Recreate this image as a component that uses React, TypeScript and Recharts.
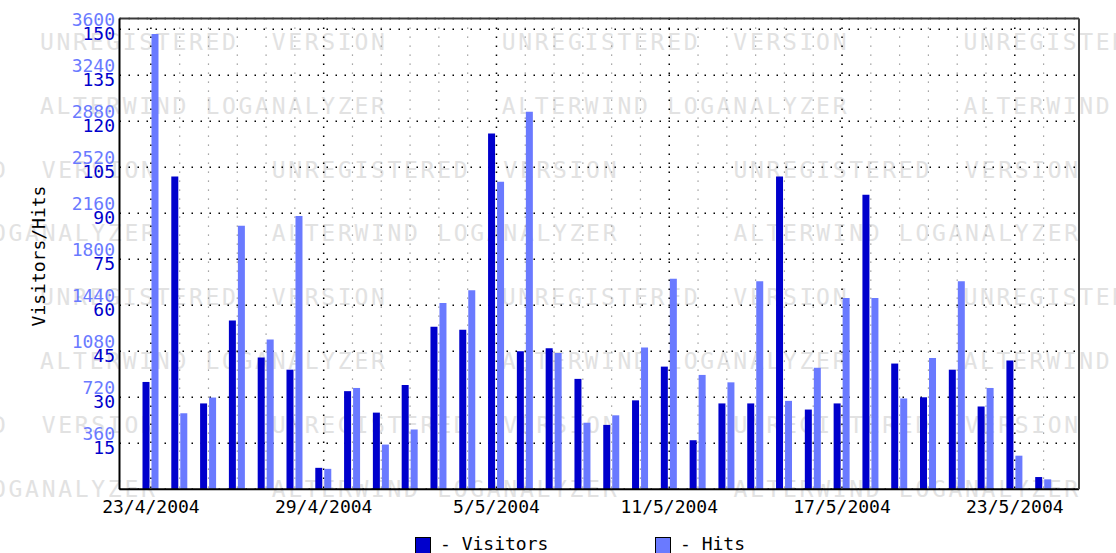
import React from 'react';
import { BarChart, Bar, XAxis, YAxis, CartesianGrid } from 'recharts';

const DATES = [
  '23/4/2004', '24/4/2004', '25/4/2004', '26/4/2004', '27/4/2004', '28/4/2004', '29/4/2004', '30/4/2004',
  '1/5/2004', '2/5/2004', '3/5/2004', '4/5/2004', '5/5/2004', '6/5/2004', '7/5/2004', '8/5/2004',
  '9/5/2004', '10/5/2004', '11/5/2004', '12/5/2004', '13/5/2004', '14/5/2004', '15/5/2004', '16/5/2004',
  '17/5/2004', '18/5/2004', '19/5/2004', '20/5/2004', '21/5/2004', '22/5/2004', '23/5/2004', '24/5/2004',
];
const VISITORS = [35, 102, 28, 55, 43, 39, 7, 32, 25, 34, 53, 52, 116, 45, 46, 36, 21, 29, 40, 16, 28, 28, 102, 26, 28, 96, 41, 30, 39, 27, 42, 4];
const HITS = [3562, 595, 718, 2063, 1172, 2138, 160, 793, 350, 468, 1457, 1557, 2407, 2955, 1067, 521, 579, 1109, 1647, 895, 837, 1628, 692, 951, 1497, 1497, 711, 1027, 1628, 793, 263, 78];
const MAJOR_DATES = ['23/4/2004', '29/4/2004', '5/5/2004', '11/5/2004', '17/5/2004', '23/5/2004'];
const VISITOR_TICKS = [15, 30, 45, 60, 75, 90, 105, 120, 135, 150];
const HIT_TICKS = [360, 720, 1080, 1440, 1800, 2160, 2520, 2880, 3240, 3600];
const VISITOR_DOMAIN_MAX = 153.5;
const HIT_DOMAIN_MAX = 3684;
const SERIES_NAMES = ['Visitors', 'Hits'];
const AXIS_TITLE = 'Visitors/Hits';
const WATERMARK_LINES = ['UNREGISTERED  VERSION', 'ALTERWIND LOGANALYZER'];

const VIS_COLOR = '#0000cc';
const HIT_COLOR = '#6a7aff';
const FONT = '"DejaVu Sans Mono", monospace';

const data = DATES.map((d, i) => ({ date: d, visitors: VISITORS[i], hits: HITS[i] }));

const posOf = (xAxis: any, v: string): number | null => {
  const s = xAxis && xAxis.scale;
  if (!s) return null;
  let p: any = null;
  if (typeof s === 'function') p = s(v);
  else if (typeof s.map === 'function') p = s.map(v);
  if (p == null || isNaN(p)) return null;
  const bw = typeof s.bandwidth === 'function' ? s.bandwidth() : 0;
  return p + bw / 2;
};

const minorGen = (props: any) =>
  DATES.filter((d) => MAJOR_DATES.indexOf(d) < 0)
    .map((d) => posOf(props.xAxis, d))
    .filter((v) => v != null) as number[];
const majorGen = (props: any) =>
  MAJOR_DATES.map((d) => posOf(props.xAxis, d)).filter((v) => v != null) as number[];

const YTick = (props: any) => {
  const { x, y, payload } = props;
  const idx = VISITOR_TICKS.indexOf(payload.value);
  return (
    <g>
      <text x={x} y={y - 3} textAnchor="end" fill={HIT_COLOR} fontFamily={FONT} fontSize={18}>
        {HIT_TICKS[idx]}
      </text>
      <text x={x} y={y + 11} textAnchor="end" fill={VIS_COLOR} fontFamily={FONT} fontSize={18}>
        {payload.value}
      </text>
    </g>
  );
};

const Background = () => {
  const items: any[] = [];
  for (let k = 0; k < 8; k++) {
    const baseY = 50 + 63.8 * k;
    const x0 = Math.floor(k / 2) % 2 === 0 ? 40 : 271.7;
    for (let n = -1; n < 3; n++) {
      items.push(
        <text key={`${k}-${n}`} x={x0 + 461.7 * n} y={baseY} xmlSpace="preserve" style={{ whiteSpace: 'pre' }}>
          {WATERMARK_LINES[k % 2]}
        </text>
      );
    }
  }
  return (
    <svg width={1116} height={553} style={{ position: 'absolute', left: 0, top: 0 }}>
      <g fill="#e2e2e2" fontFamily={FONT} fontSize={23} letterSpacing={2.7}>
        {items}
      </g>
      <text
        x={45}
        y={256}
        textAnchor="middle"
        transform="rotate(-90, 45, 256)"
        fill="#000"
        fontFamily={FONT}
        fontSize={18}
      >
        {AXIS_TITLE}
      </text>
    </svg>
  );
};

const LegendItem = ({ left, color, name }: any) => (
  <div style={{ position: 'absolute', left, top: 535, display: 'flex', alignItems: 'flex-start' }}>
    <div
      style={{
        width: 14,
        height: 15,
        marginTop: 2,
        background: color,
        border: '1px solid #000',
      }}
    />
    <div style={{ marginLeft: 9, fontFamily: FONT, fontSize: 18, lineHeight: '18px', color: '#000', whiteSpace: 'pre' }}>
      {`- ${name}`}
    </div>
  </div>
);

export default function App() {
  return (
    <div style={{ position: 'absolute', left: 0, top: 0, width: 1116, height: 553, background: '#fff', overflow: 'hidden' }}>
      <Background />
      <div style={{ position: 'absolute', left: 0, top: 0 }}>
        <BarChart
          width={1116}
          height={553}
          data={data}
          margin={{ top: 17.5, right: 36, bottom: 33.7, left: 0 }}
          barSize={7}
          barGap={2}
        >
          <CartesianGrid
            xAxisId="x"
            yAxisId="v"
            horizontal={false}
            verticalCoordinatesGenerator={minorGen}
            stroke="#8a8a8a"
            strokeWidth={1.2}
            strokeDasharray="1.2 7.8"
          />
          <CartesianGrid
            xAxisId="x"
            yAxisId="v"
            horizontal={false}
            verticalCoordinatesGenerator={majorGen}
            stroke="#000"
            strokeWidth={1.5}
            strokeDasharray="1.5 7.5"
          />
          <CartesianGrid
            xAxisId="x"
            yAxisId="v"
            vertical={false}
            stroke="#000"
            strokeWidth={1.5}
            strokeDasharray="1.5 7.5"
          />
          <XAxis
            xAxisId="x"
            dataKey="date"
            type="category"
            ticks={MAJOR_DATES}
            interval={0}
            padding={{ left: 17, right: 21 }}
            height={30}
            tickSize={0}
            tickMargin={11}
            tickLine={false}
            axisLine={{ stroke: '#000', strokeWidth: 2 }}
            tick={{ fill: '#000', fontSize: 18, fontFamily: FONT }}
          />
          <XAxis
            xAxisId="top"
            dataKey="date"
            type="category"
            orientation="top"
            height={1}
            tick={false}
            tickLine={false}
            axisLine={{ stroke: '#3a3a3a', strokeWidth: 2 }}
          />
          <YAxis yAxisId="h" hide width={0} domain={[0, HIT_DOMAIN_MAX]} ticks={HIT_TICKS} />
          <YAxis
            yAxisId="v"
            width={119.5}
            domain={[0, VISITOR_DOMAIN_MAX]}
            ticks={VISITOR_TICKS}
            interval={0}
            tickSize={0}
            tickMargin={4.5}
            tickLine={false}
            axisLine={{ stroke: '#000', strokeWidth: 2 }}
            tick={<YTick />}
          />
          <YAxis
            yAxisId="r"
            orientation="right"
            width={1}
            domain={[0, VISITOR_DOMAIN_MAX]}
            ticks={VISITOR_TICKS}
            tick={false}
            tickLine={false}
            axisLine={{ stroke: '#444', strokeWidth: 2 }}
          />
          <Bar xAxisId="x" yAxisId="v" dataKey="visitors" name={SERIES_NAMES[0]} fill={VIS_COLOR} isAnimationActive={false} />
          <Bar xAxisId="x" yAxisId="h" dataKey="hits" name={SERIES_NAMES[1]} fill={HIT_COLOR} isAnimationActive={false} />
        </BarChart>
      </div>
      <LegendItem left={415} color={VIS_COLOR} name={SERIES_NAMES[0]} />
      <LegendItem left={655} color={HIT_COLOR} name={SERIES_NAMES[1]} />
    </div>
  );
}
